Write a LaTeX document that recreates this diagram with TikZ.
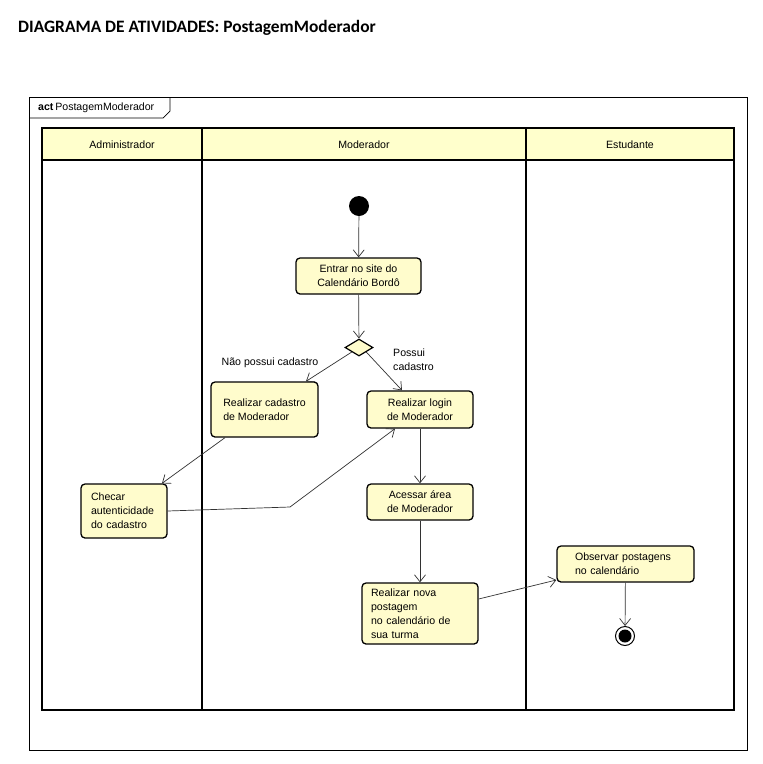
\documentclass[tikz,border=0pt]{standalone}
\usepackage{fontspec}
\setmainfont{Liberation Sans}
\newfontfamily\titlefont{Carlito}
\usetikzlibrary{arrows.meta,shapes.geometric}
\definecolor{boxfill}{RGB}{255,252,204}
\definecolor{headfill}{RGB}{255,255,204}
\definecolor{edgecol}{RGB}{50,50,50}
\tikzset{
  actbox/.style={draw=black, line width=1.3pt, rounded corners=4pt, fill=boxfill,
    inner sep=0pt, font=\fontsize{10.6}{14}\selectfont},
  flow/.style={draw=edgecol, line width=0.7pt, -{Straight Barb[length=7pt,width=11pt,line width=0.7pt]}},
  lane/.style={draw=black, line width=1.5pt},
  lanelabel/.style={font=\fontsize{10.6}{12}\selectfont},
  guard/.style={font=\fontsize{10.6}{14}\selectfont, inner sep=0pt, align=left},
}
\begin{document}
\begin{tikzpicture}[x=1pt,y=-1pt]
\useasboundingbox[fill=white] (0,0) rectangle (763,764);
% title
\node[anchor=west, inner sep=0pt, font=\titlefont\bfseries\fontsize{17.4}{19}\selectfont] (title) at (18,28) {DIAGRAMA DE ATIVIDADES: PostagemModerador};
% outer frame and tab
\draw[line width=0.7pt] (29,97) rectangle (747,750);
\draw[line width=0.7pt] (29,118) -- (163,118) -- (170,111) -- (170,97);
\node[anchor=west, inner sep=0pt, font=\fontsize{10.6}{12}\selectfont] (tab) at (38,108) {\textbf{act}\,PostagemModerador};
% swimlanes
\fill[headfill] (42,128) rectangle (734,160);
\draw[lane] (42,128) rectangle (734,710);
\draw[lane] (42,160) -- (734,160);
\draw[lane] (202,128) -- (202,710);
\draw[lane] (526,128) -- (526,710);
\node[lanelabel] (l1) at (122,145) {Administrador};
\node[lanelabel] (l2) at (364,145) {Moderador};
\node[lanelabel] (l3) at (630,145) {Estudante};
% nodes
\node[circle, fill=black, minimum size=20pt, inner sep=0pt] (ini) at (359,206) {};
\node[actbox, minimum width=125pt, minimum height=36pt, align=center] (ent) at (358.5,276) {Entrar no site do\\Calendário Bordô};
\node[diamond, draw=black, line width=1.2pt, fill=boxfill, minimum width=28pt, minimum height=17pt, inner sep=0pt, aspect=1.6] (dia) at (359,347.5) {};
\node[actbox, minimum width=107pt, minimum height=55pt, align=left] (cad) at (264.5,409.5) {Realizar cadastro\\de Moderador};
\node[actbox, minimum width=106pt, minimum height=37pt, align=center] (log) at (420,409.5) {Realizar login\\de Moderador};
\node[actbox, minimum width=86pt, minimum height=54pt, align=left, text width=66pt] (chk) at (124,511) {Checar\\autenticidade\\do cadastro};
\node[actbox, minimum width=106pt, minimum height=36pt, align=center] (acs) at (420,502) {Acessar área\\de Moderador};
\node[actbox, minimum width=116pt, minimum height=61pt, align=left, text width=98pt] (nov) at (420,613.5) {Realizar nova\\postagem\\no calendário de\\sua turma};
\node[actbox, minimum width=137pt, minimum height=36pt, align=left, text width=101pt] (obs) at (625.5,564) {Observar postagens\\no calendário};
\node[circle, draw=black, line width=1pt, fill=white, minimum size=19pt, inner sep=0pt] (fin) at (625,636) {};
\node[circle, fill=black, minimum size=13pt, inner sep=0pt] (finin) at (625,636) {};
% guards
\node[guard, anchor=center] (g1) at (270,363) {Não possui cadastro};
\node[guard, anchor=north west] (g2) at (393,349) {Possui\\cadastro};
% edges
\draw[flow] (ini) -- (ent);
\draw[flow] (ent) -- (dia);
\draw[flow] (dia.south west) -- ([xshift=41.5pt]cad.north);
\draw[flow] (dia.south east) -- ([xshift=-18pt]log.north);
\draw[flow] ([xshift=-39.5pt]cad.south) -- ([xshift=38pt]chk.north);
\coordinate (bend) at (290,507);
\draw[flow] (chk.east) -- (bend) -- ([xshift=-25pt]log.south);
\draw[flow] (log) -- (acs);
\draw[flow] (acs) -- (nov);
\draw[flow] ([yshift=14.5pt]nov.east) -- ([yshift=-16pt]obs.west);
\draw[flow] (obs) -- (fin);
\end{tikzpicture}
\end{document}
